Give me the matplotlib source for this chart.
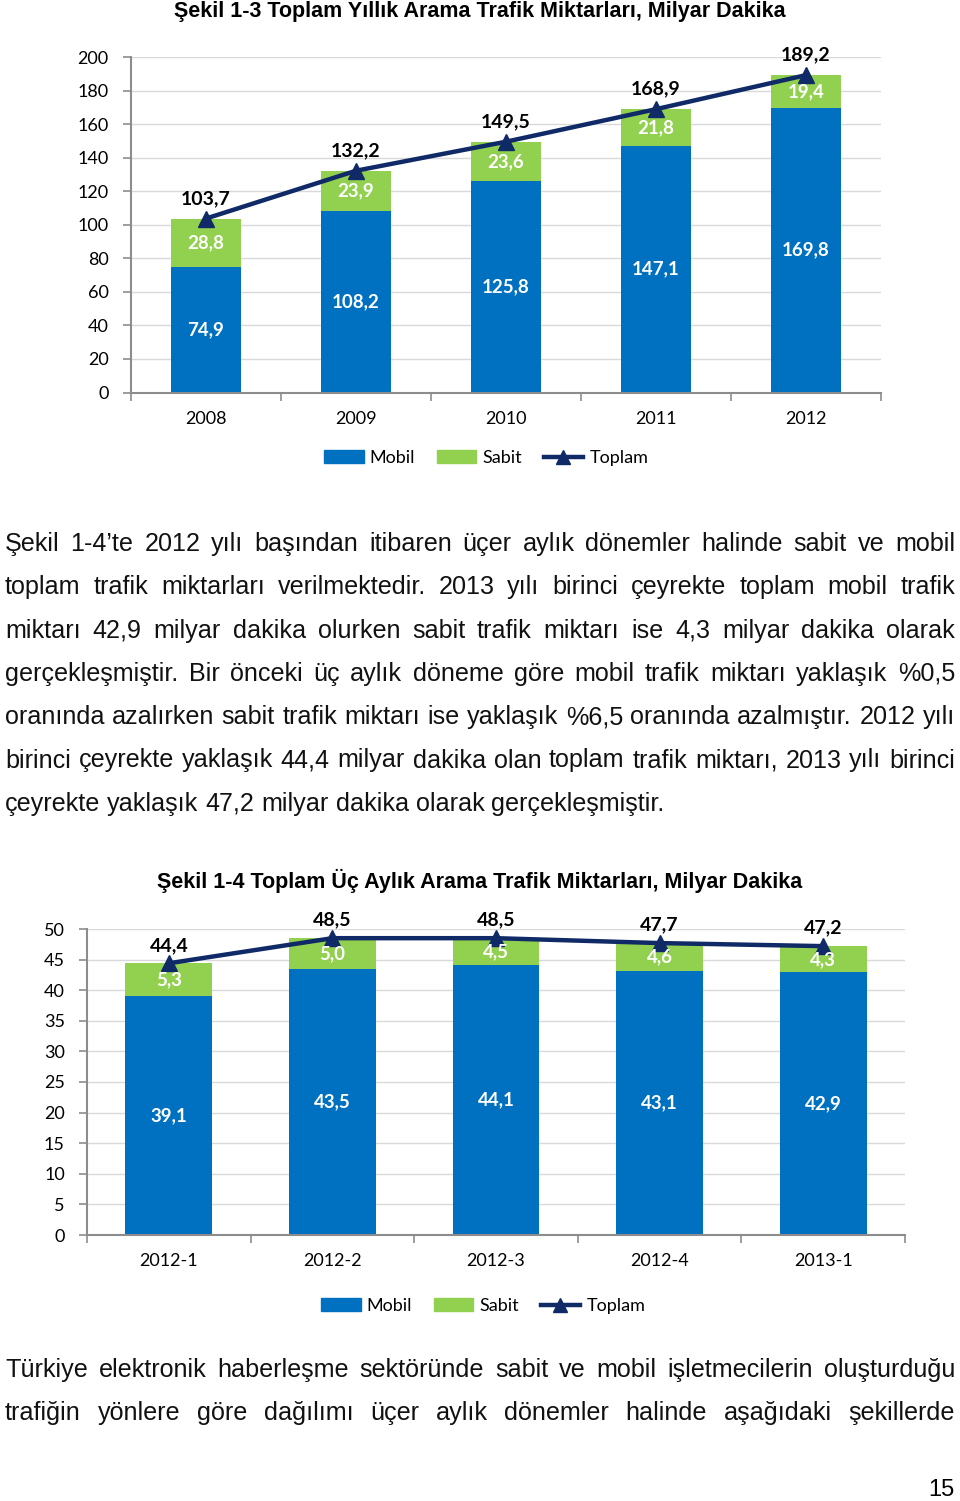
import matplotlib
matplotlib.use("Agg")
import matplotlib.pyplot as plt
import numpy as np
from matplotlib.lines import Line2D
from matplotlib.patches import Patch

# ---------------- data ----------------
years = ["2008", "2009", "2010", "2011", "2012"]
mobil_y = [74.9, 108.2, 125.8, 147.1, 169.8]
sabit_y = [28.8, 23.9, 23.6, 21.8, 19.4]
toplam_y = [103.7, 132.2, 149.5, 168.9, 189.2]

quarters = ["2012-1", "2012-2", "2012-3", "2012-4", "2013-1"]
mobil_q = [39.1, 43.5, 44.1, 43.1, 42.9]
sabit_q = [5.3, 5.0, 4.5, 4.6, 4.3]
toplam_q = [44.4, 48.5, 48.5, 47.7, 47.2]

title1 = "Şekil 1-3 Toplam Yıllık Arama Trafik Miktarları, Milyar Dakika"
title2 = "Şekil 1-4 Toplam Üç Aylık Arama Trafik Miktarları, Milyar Dakika"

para1 = [
    ("Şekil 1-4’te 2012 yılı başından itibaren üçer aylık dönemler halinde sabit ve mobil", True),
    ("toplam trafik miktarları verilmektedir. 2013 yılı birinci çeyrekte toplam mobil trafik", True),
    ("miktarı 42,9 milyar dakika olurken sabit trafik miktarı ise 4,3 milyar dakika olarak", True),
    ("gerçekleşmiştir. Bir önceki üç aylık döneme göre mobil trafik miktarı yaklaşık %0,5", True),
    ("oranında azalırken sabit trafik miktarı ise yaklaşık %6,5 oranında azalmıştır. 2012 yılı", True),
    ("birinci çeyrekte yaklaşık 44,4 milyar dakika olan toplam trafik miktarı, 2013 yılı birinci", True),
    ("çeyrekte yaklaşık 47,2 milyar dakika olarak gerçekleşmiştir.", False),
]
para2 = [
    ("Türkiye elektronik haberleşme sektöründe sabit ve mobil işletmecilerin oluşturduğu", True),
    ("trafiğin yönlere göre dağılımı üçer aylık dönemler halinde aşağıdaki şekillerde", True),
]

BLUE = "#0070C0"
GREEN = "#92D050"
NAVY = "#0F2A66"
GRID = "#D9D9D9"
SPINE = "#8C8C8C"
CHART_FONT = ["Lato", "DejaVu Sans"]
TEXT_FONT = ["Liberation Sans", "DejaVu Sans"]
TITLE_FONT = ["Liberation Sans", "DejaVu Sans"]

W, H = 960, 1501
fig = plt.figure(figsize=(W / 100, H / 100), dpi=100)


def fy(px):
    return 1 - px / H


def draw_chart(rect, cats, mob, sab, tot, ymax, ystep, width, lbl_off, legend_xy, fmt):
    ax = fig.add_axes(rect)
    x = np.arange(len(cats))
    ax.bar(x, mob, width=width, color=BLUE, zorder=2)
    ax.bar(x, sab, width=width, bottom=mob, color=GREEN, zorder=2)
    ax.plot(x, tot, color=NAVY, lw=3.2, marker="^", ms=11, mfc=NAVY, mec=NAVY, zorder=4)
    for xi, m, s, t in zip(x, mob, sab, tot):
        ax.text(xi, m / 2, fmt(m), ha="center", va="center", color="white",
                fontsize=13.5, fontweight="bold", family=CHART_FONT, zorder=5)
        ax.text(xi, m + s / 2, fmt(s), ha="center", va="center", color="white",
                fontsize=13.5, fontweight="bold", family=CHART_FONT, zorder=5)
        ax.annotate(fmt(t), (xi, t), xytext=(0, lbl_off), textcoords="offset pixels",
                    ha="center", va="center", color="black", fontsize=14,
                    fontweight="bold", family=CHART_FONT, zorder=5)
    ax.set_xlim(-0.5, len(cats) - 0.5)
    ax.set_ylim(0, ymax)
    ax.set_yticks(np.arange(0, ymax + 0.01, ystep))
    ax.set_yticklabels([str(int(v)) for v in np.arange(0, ymax + 0.01, ystep)],
                       family=CHART_FONT, fontsize=13)
    ax.set_xticks(x)
    ax.set_xticklabels(cats, family=CHART_FONT, fontsize=13)
    ax.set_xticks(np.arange(-0.5, len(cats), 1.0), minor=True)
    ax.tick_params(axis="x", which="major", length=0, pad=13)
    ax.tick_params(axis="x", which="minor", length=6, color=SPINE, width=1.2)
    ax.tick_params(axis="y", length=6, color=SPINE, width=1.2, pad=10)
    ax.grid(axis="y", color=GRID, lw=1, zorder=0)
    ax.set_axisbelow(True)
    for sp in ["top", "right"]:
        ax.spines[sp].set_visible(False)
    for sp in ["left", "bottom"]:
        ax.spines[sp].set_color(SPINE)
        ax.spines[sp].set_linewidth(1.5)
    handles = [Patch(color=BLUE, label="Mobil"), Patch(color=GREEN, label="Sabit"),
               Line2D([0], [0], color=NAVY, lw=3.2, marker="^", ms=10, mfc=NAVY, mec=NAVY,
                      label="Toplam")]
    fig.legend(handles=handles, loc="center", bbox_to_anchor=legend_xy, ncol=3,
               frameon=False, prop={"family": CHART_FONT, "size": 13},
               handlelength=2.2, handleheight=0.7, handletextpad=0.33, columnspacing=1.2)
    return ax


fmt = lambda v: f"{v:.1f}".replace(".", ",")

fig.text(480 / W, fy(12), title1, ha="center", va="center", fontsize=15.5,
         fontweight="bold", family=TITLE_FONT)
draw_chart([131 / W, fy(392.5), 750 / W, (392.5 - 57) / H], years, mobil_y, sabit_y, toplam_y,
           200, 20, 0.467, 20, (486 / W, fy(458)), fmt)

fig.text(480 / W, fy(881), title2, ha="center", va="center", fontsize=15.5,
         fontweight="bold", family=TITLE_FONT)
draw_chart([87 / W, fy(1235), 818 / W, (1235 - 929) / H], quarters, mobil_q, sabit_q, toplam_q,
           50, 5, 0.53, 18, (483 / W, fy(1306)), fmt)

# ---------------- justified text ----------------
renderer = fig.canvas.get_renderer()
TXT_SIZE = 18.1


def text_width(s):
    t = fig.text(0, 0, s, fontsize=TXT_SIZE, family=TEXT_FONT)
    w = t.get_window_extent(renderer).width
    t.remove()
    return w


space_w = text_width("a a") - text_width("aa")


def draw_lines(lines, y0, step, x0=5, x1=955):
    for i, (line, just) in enumerate(lines):
        words = line.split(" ")
        widths = [text_width(w) for w in words]
        if just and len(words) > 1:
            gap = (x1 - x0 - sum(widths)) / (len(words) - 1)
        else:
            gap = space_w
        xx = x0
        base = y0 + i * step + 8
        for w, wd in zip(words, widths):
            fig.text(xx / W, fy(base), w, fontsize=TXT_SIZE, family=TEXT_FONT,
                     ha="left", va="baseline", color="#111111")
            xx += wd + gap


draw_lines(para1, 543, 43.3)
draw_lines(para2, 1369, 43.3)

fig.text(955 / W, fy(1490), "15", ha="right", va="center", fontsize=17, family=TEXT_FONT)

fig.savefig("out.png", dpi=100)
